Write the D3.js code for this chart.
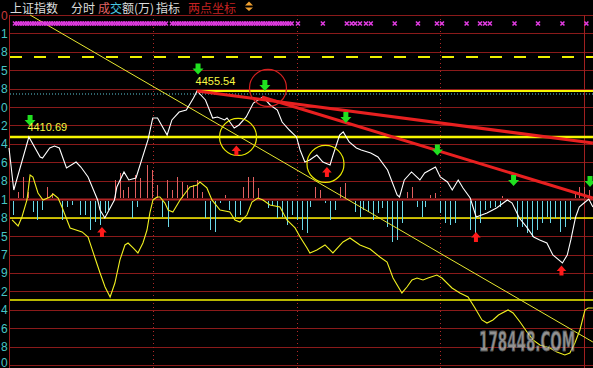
<!DOCTYPE html>
<html>
<head>
<meta charset="utf-8">
<script src="https://cdnjs.cloudflare.com/ajax/libs/d3/7.8.5/d3.min.js"></script>
<style>
html, body { margin:0; padding:0; background:#000; overflow:hidden; }
svg { display:block; }
</style>
</head>
<body>
<script>
// price axis ticks (the window only leaves the last digit of each in view)
var tickValues = [4529.60,4511.71,4493.78,4475.75,4457.78,4439.80,4421.92,4403.94,4385.96,4367.98,
                  4350.01,4332.08,4314.05,4296.07,4278.09,4260.12,4242.14,4224.16,4206.18,4188.20];
var tickLabels = ["4529.60","4511.71","4493.78","4475.75","4457.78","4439.80","4421.92","4403.94","4385.96","4367.98",
                  "4350.01","4332.08","4314.05","4296.07","4278.09","4260.12","4242.14","4224.16","4206.18","4188.20"];

// minute of session (0..240), index value
var priceLine = [[0,4400.0],[2,4359.0],[8.3,4410.69],[13,4391.2],[14,4390.2],[17,4400.0],[19,4401.9],[21,4400.0],
  [24,4380.5],[28,4386.3],[30,4381.4],[33,4371.7],[37,4349.3],[38,4339.5],[40,4331.7],[44,4349.3],[45,4361.9],
  [48,4376.6],[50,4368.8],[53,4370.7],[58,4407.8],[60,4429.2],[62,4429.2],[66,4412.6],[68,4427.3],[71,4435.0],
  [74,4437.0],[77,4448.7],[78.5,4455.54],[82,4446.8],[85,4429.2],[87,4430.2],[90,4427.3],[91,4429.2],[94,4419.5],
  [96,4422.4],[99,4430.2],[102,4443.8],[104,4446.8],[106,4449.7],[109,4441.9],[112,4437.0],[114,4425.3],
  [117,4417.5],[120,4410.7],[121.5,4398.0],[123.5,4386.3],[125.5,4388.3],[128.5,4393.1],[131,4386.3],
  [134,4383.4],[135,4391.2],[138,4412.6],[139.5,4415.6],[142,4405.8],[145,4400.0],[147,4398.0],[151,4395.1],
  [154,4391.2],[158,4378.5],[162,4354.1],[163,4352.2],[165,4368.8],[168,4376.6],[171.5,4368.8],[173.5,4375.6],
  [178,4381.4],[180,4371.7],[183,4366.8],[185,4359.0],[187.5,4368.8],[189.5,4361.0],[192.5,4351.2],[195,4332.7],
  [199.5,4336.6],[203.5,4341.5],[208,4349.3],[210,4346.3],[213,4331.7],[216,4323.0],[219,4313.2],[221.5,4310.3],
  [224.5,4307.3],[227,4295.6],[231,4287.8],[233,4295.6],[234.5,4310.3],[236.5,4332.7],[238,4342.4],[240,4346.3],
  [242,4350.2],[243.7,4342.4]];

var avgLine = [[1.3,4329.8],[3.8,4323.9],[5.4,4332.7],[7.5,4349.3],[8.8,4373.6],[10,4371.7],[12.1,4356.1],
  [14.2,4349.3],[17.1,4352.2],[18.4,4355.1],[20.5,4351.2],[22.1,4342.4],[23.4,4334.6],[25.5,4322.0],[30.5,4318.1],
  [33,4313.2],[35.9,4292.7],[38,4278.1],[40.1,4264.4],[42.2,4254.7],[44.2,4268.3],[46.3,4290.8],[48.4,4305.4],
  [49.7,4307.3],[51.8,4302.5],[53.8,4297.6],[55.9,4307.3],[57.6,4320.0],[58.8,4336.6],[60.1,4349.3],[61.8,4352.2],
  [63,4352.2],[65.1,4346.3],[66.4,4339.5],[68.4,4337.6],[71.4,4349.3],[75.5,4361.9],[78.5,4363.9],[79.7,4366.8],
  [82.6,4361.0],[84.7,4349.3],[88.1,4339.5],[92.2,4337.6],[94.3,4329.8],[96.4,4327.8],[99.3,4334.6],[101.4,4347.3],
  [103.9,4351.2],[106,4349.3],[108.9,4344.4],[113.1,4342.4],[116,4329.8],[119.4,4322.0],[121.5,4313.2],
  [124.4,4302.5],[125.6,4297.6],[128.5,4300.5],[131.9,4305.4],[135.2,4297.6],[139.4,4308.3],[142.3,4312.2],
  [146.5,4305.4],[150.7,4301.5],[154.8,4293.7],[157.8,4288.8],[160.3,4273.2],[164,4258.6],[166.1,4264.4],
  [168.2,4271.3],[170.3,4273.2],[172.8,4271.3],[174.9,4273.2],[178.6,4276.1],[180.7,4273.2],[184.9,4263.5],
  [188.2,4258.6],[191.6,4254.7],[194.5,4244.0],[197.4,4232.3],[199.5,4229.3],[202,4232.3],[204.3,4237.1],
  [208.3,4242.0],[210.4,4239.1],[213.3,4230.3],[216.2,4220.6],[218.7,4212.8],[221.6,4207.9],[225.8,4205.0],
  [228.7,4201.1],[232,4198.1],[234.1,4200.1],[236.2,4209.8],[238.3,4222.5],[240.4,4242.0],[241.7,4244.0],[243.7,4244.0]];

// 成交额 style bars: + red, - cyan
var volBars = [[3.8,6],[5.8,21],[7.9,6],[15.9,11],[17.9,5],[44.2,18],[46.3,25],[47.6,8],[49.7,11],[52.6,23],
  [54.7,20],[57.6,33],[59.7,28],[61.8,13],[65.9,18],[68,8],[70.1,21],[72.2,16],[74.3,13],[76.8,13],[78.5,18],
  [80.6,6],[90.2,3],[97.7,11],[99.7,21],[101.8,21],[103.9,10],[127.7,11],[129.8,8],[138.1,11],[140.2,15],
  [166.1,6],[168.2,11],[175.7,3],[177.8,5],[205.8,2],[236.2,5],[237.9,11],[240,11],[242.1,8],
  [1.7,-14],[10,-11],[11.7,-19],[13.8,-9],[22.1,-19],[24.2,-6],[26.3,-4],[29.6,-14],[31.7,-14],[33.8,-29],
  [35.9,-21],[38,-24],[40.1,-12],[41.3,-9],[51.3,-17],[53.4,-6],[63.9,-16],[66.4,-26],[81.8,-17],[83.9,-29],
  [86,-31],[88.1,-2],[91.8,-9],[94.3,-16],[96.4,-14],[108.1,-7],[109.8,-4],[111.9,-17],[113.9,-16],[116,-24],
  [118.1,-14],[120.2,-19],[122.3,-29],[124.4,-32],[125.6,-6],[131.9,-2],[134,-19],[136.1,-9],[144.4,-11],
  [146.5,-16],[147.7,-9],[149.8,-11],[151.9,-19],[154,-12],[155.7,-7],[157.8,-26],[159.8,-41],[161.9,-39],
  [164,-22],[170.3,-6],[172.4,-16],[173.6,-6],[179.9,-12],[182,-22],[184.1,-24],[186.1,-22],[192.4,-29],
  [194.5,-32],[196.6,-22],[198.7,-9],[200.8,-7],[202.8,-6],[204.9,-6],[212,-26],[214.1,-26],[216.2,-32],
  [218.3,-36],[220.4,-29],[222.5,-22],[224.5,-16],[225.8,-22],[227.9,-17],[230,-31],[232.1,-26],[234.1,-19]];

// signal row at the top
var markerRuns = [[2.5,66],[68,118.5]];
var markerSingles = [120.6,131,141,143,144.5,146.5,149,151,161,170.7,178.6,180.7,191,196.6,198.7,200.7,211,220.8,231,241];

var yellowLevels = [4410.69, 4331.7, 4251.8];
var dashedLevel = 4488.7;
var prevClose = 4452.6;
var highLevel = [78.5, 4455.54];

var redTrends = [[[78.5,4455.54],[243.7,4404.8]], [[105.6,4449.7],[243.7,4351.2]]];
var yellowTrend = [[8.8,4529.6],[243.7,4210.8]];

var circles = [[108.1,4458.5,"#d42020"],[95.6,4410.7,"#e8e800"],[132.1,4384.4,"#e8e800"]];
var greenArrows = [[8.8,4426.7],[78.9,4477.0],[106.8,4460.9],[140.6,4429.7],[178.8,4398.0],[210.6,4368.3],[242.5,4367.3]];
var redArrows = [[38.8,4318.1],[94.9,4397.5],[132.7,4376.6],[194.9,4313.2],[230.6,4280.5]];
var peakLabels = [["4455.54",78.5,4455.54],["4410.69",8.3,4410.69]];

var W = 593, H = 368;
var svg = d3.select("body").append("svg").attr("width", W).attr("height", H)
  .style("background", "#000");

var x = d3.scaleLinear().domain([0, 240]).range([9, 584]);
var y = d3.scaleLinear().domain([4544.25, 4188.375]).range([0, 365]);
var vy = d3.scaleLinear().domain([-45, 45]).range([244, 154]);

var gridCol = "#8a1a1a";

// horizontal grid
svg.append("g").selectAll("line").data(tickValues).enter().append("line")
  .attr("x1", 9).attr("x2", W)
  .attr("y1", function(d){ return Math.round(y(d)) + 0.5; })
  .attr("y2", function(d){ return Math.round(y(d)) + 0.5; })
  .attr("stroke", function(d, i){ return i == 10 ? "#b02424" : gridCol; })
  .attr("stroke-width", function(d, i){ return i == 10 ? 2 : 1; });

// tick labels: only the trailing digit fits left of the frame
svg.append("g").selectAll("text").data(tickLabels).enter().append("text")
  .attr("x", 1)
  .attr("y", function(d, i){ return Math.min(y(tickValues[i]) + 4.5, 366.5); })
  .attr("font-family", "Liberation Sans, Arial, sans-serif")
  .attr("font-size", 12)
  .attr("fill", function(d, i){ return i == 0 ? "#c83a3a" : "#46c6c6"; })
  .text(function(d){ return d.slice(-1); });

// vertical frame + hour lines
svg.append("line").attr("x1", 9.5).attr("x2", 9.5).attr("y1", 15).attr("y2", H)
  .attr("stroke", "#a02020");
svg.append("line").attr("x1", x(240) + 0.5).attr("x2", x(240) + 0.5).attr("y1", 15).attr("y2", H)
  .attr("stroke", "#a02020");
svg.append("g").selectAll("line").data([60, 120, 180]).enter().append("line")
  .attr("x1", function(d){ return Math.round(x(d)) + 0.5; })
  .attr("x2", function(d){ return Math.round(x(d)) + 0.5; })
  .attr("y1", 15).attr("y2", H)
  .attr("stroke", "#b02828").attr("stroke-dasharray", "1,3");

// level lines
svg.append("line").attr("x1", 10).attr("x2", W)
  .attr("y1", y(dashedLevel)).attr("y2", y(dashedLevel))
  .attr("stroke", "#f0f000").attr("stroke-width", 2).attr("stroke-dasharray", "12,12");
svg.append("line").attr("x1", 10).attr("x2", W)
  .attr("y1", y(prevClose)).attr("y2", y(prevClose))
  .attr("stroke", "#5cc8d8").attr("stroke-width", 1).attr("stroke-dasharray", "1,2");
svg.append("line").attr("x1", x(highLevel[0])).attr("x2", W)
  .attr("y1", y(highLevel[1])).attr("y2", y(highLevel[1]))
  .attr("stroke", "#f5f500").attr("stroke-width", 2);
svg.append("g").selectAll("line").data(yellowLevels).enter().append("line")
  .attr("x1", 10).attr("x2", W)
  .attr("y1", function(d){ return y(d); }).attr("y2", function(d){ return y(d); })
  .attr("stroke", "#f5f500")
  .attr("stroke-width", function(d, i){ return i == 0 ? 2.5 : 1.5; });

// bars
svg.append("g").selectAll("line").data(volBars).enter().append("line")
  .attr("x1", function(d){ return Math.round(x(d[0])) + 0.5; })
  .attr("x2", function(d){ return Math.round(x(d[0])) + 0.5; })
  .attr("y1", function(d){ return d[1] > 0 ? vy(0) - 1 : vy(0) + 2; })
  .attr("y2", function(d){ return d[1] > 0 ? vy(d[1]) - 1 : vy(d[1]) + 2; })
  .attr("stroke", function(d){ return d[1] > 0 ? "#e06060" : "#6ad8e8"; })
  .attr("stroke-width", 1);

var line = d3.line().x(function(d){ return x(d[0]); }).y(function(d){ return y(d[1]); });

// yellow diagonal
svg.append("path").datum(yellowTrend).attr("d", line)
  .attr("fill", "none").attr("stroke", "#e8e830").attr("stroke-width", 1);

// curves
svg.append("path").datum(avgLine).attr("d", line)
  .attr("fill", "none").attr("stroke", "#f0f020").attr("stroke-width", 1.1);
svg.append("path").datum(priceLine).attr("d", line)
  .attr("fill", "none").attr("stroke", "#ffffff").attr("stroke-width", 1.1);

// red trend lines
svg.append("g").selectAll("path").data(redTrends).enter().append("path")
  .attr("d", line).attr("fill", "none")
  .attr("stroke", "#e82020").attr("stroke-width", 3);

// circles
svg.append("g").selectAll("circle").data(circles).enter().append("circle")
  .attr("cx", function(d){ return x(d[0]); })
  .attr("cy", function(d){ return y(d[1]); })
  .attr("r", 18.5)
  .attr("fill", "none")
  .attr("stroke", function(d){ return d[2]; })
  .attr("stroke-width", 1.2);

// arrows
var downArrow = function(cx, cy)
{
  return "M" + (cx-2.5) + "," + (cy-5.5) + "H" + (cx+2.5) + "V" + (cy-0.5) + "H" + (cx+5.5) +
    "L" + cx + "," + (cy+5.5) + "L" + (cx-5.5) + "," + (cy-0.5) + "H" + (cx-2.5) + "Z";
};
var upArrow = function(cx, cy)
{
  return "M" + (cx-2) + "," + (cy+5) + "H" + (cx+2) + "V" + (cy+0.5) + "H" + (cx+4.8) +
    "L" + cx + "," + (cy-5) + "L" + (cx-4.8) + "," + (cy+0.5) + "H" + (cx-2) + "Z";
};
svg.append("g").selectAll("path").data(greenArrows).enter().append("path")
  .attr("d", function(d){ return downArrow(x(d[0]), y(d[1])); })
  .attr("fill", "#20e020");
svg.append("g").selectAll("path").data(redArrows).enter().append("path")
  .attr("d", function(d){ return upArrow(x(d[0]), y(d[1])); })
  .attr("fill", "#ff1a1a");

// peak labels
svg.append("g").selectAll("text").data(peakLabels).enter().append("text")
  .attr("x", function(d){ return x(d[1]) - 1.5; })
  .attr("y", function(d){ return y(d[2]) - 5.5; })
  .attr("font-family", "Liberation Sans, Arial, sans-serif")
  .attr("font-size", 11)
  .attr("fill", "#f8f840")
  .text(function(d){ return d[0]; });

// magenta signal marks
var marks = [];
markerRuns.forEach(function(r){ d3.range(r[0], r[1], 1).forEach(function(m){ marks.push(m); }); });
markerSingles.forEach(function(m){ marks.push(m); });
svg.append("g").selectAll("path").data(marks).enter().append("path")
  .attr("d", function(m){
    var cx = x(m), cy = 23.5;
    return "M" + (cx-2) + "," + (cy-2) + "L" + (cx+2) + "," + (cy+2) +
      "M" + (cx+2) + "," + (cy-2) + "L" + (cx-2) + "," + (cy+2);
  })
  .attr("stroke", "#e03ce0").attr("stroke-width", 1.6);

// title bar
var title = svg.append("text").attr("x", 10).attr("y", 13)
  .attr("font-family", "Noto Sans CJK SC, sans-serif").attr("font-size", 12);
title.append("tspan").attr("fill", "#dcdcdc").text("上证指数");
title.append("tspan").attr("x", 71).attr("fill", "#dcdcdc").text("分时");
title.append("tspan").attr("x", 98).attr("fill", "#e06464").text("成");
title.append("tspan").attr("fill", "#48c8e0").text("交");
title.append("tspan").attr("fill", "#dcdcdc").text("额(万)");
title.append("tspan").attr("x", 156).attr("fill", "#dcdcdc").text("指标");
title.append("tspan").attr("x", 188).attr("fill", "#c42222").text("两点坐标");
svg.append("path").attr("d", "M245,5.5L253,5.5L249,1.5Z M245,7.5L253,7.5L249,11Z")
  .attr("fill", "#f0a030");

// watermark (stretched vertically instead of squeezing the text length)
svg.append("g").attr("transform", "translate(479,351) scale(1,1.75)")
  .append("text").attr("x", 0).attr("y", 0)
  .attr("font-family", "DejaVu Sans Condensed, sans-serif").attr("font-weight", "bold")
  .attr("font-size", 15)
  .attr("fill", "#d4d4d4").attr("fill-opacity", 0.7)
  .attr("stroke", "#555").attr("stroke-width", 0.5)
  .text("178448.COM");
</script>
</body>
</html>
